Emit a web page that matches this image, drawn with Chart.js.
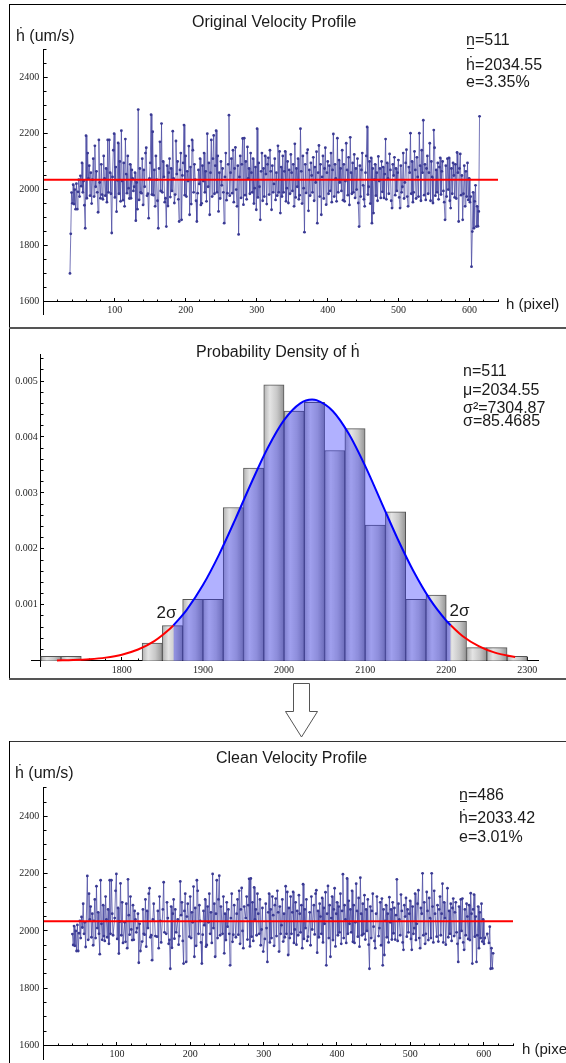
<!DOCTYPE html>
<html>
<head>
<meta charset="utf-8">
<title>Velocity profile cleaning</title>
<script src="https://cdn.jsdelivr.net/npm/chart.js@4.4.1/dist/chart.umd.min.js"></script>
<style>
html,body{margin:0;padding:0;background:#fff;}
body{position:relative;width:566px;height:1063px;overflow:hidden;font-family:"Liberation Sans",Arial,sans-serif;color:#1a1a1a;}
.ln{position:absolute;background:#000;}
canvas{position:absolute;left:0;}
.t{position:absolute;white-space:nowrap;font-size:16px;line-height:16px;}
.s15{font-size:15px;line-height:15px;}
.s17{font-size:17px;line-height:17px;}
.hb{position:relative;display:inline-block;}
.hb::before{content:"";position:absolute;left:1px;right:1px;top:-9px;border-top:1px solid #1a1a1a;}
</style>
</head>
<body>
<div class="ln" style="left:9px;top:4px;width:557px;height:1px"></div>
<div class="ln" style="left:9px;top:4px;width:1px;height:676px"></div>
<div class="ln" style="left:9px;top:327px;width:557px;height:2px;background:#555"></div>
<div class="ln" style="left:9px;top:678px;width:557px;height:2px;background:#555"></div>
<div class="ln" style="left:9px;top:741px;width:557px;height:1px;background:#333"></div>
<div class="ln" style="left:9px;top:741px;width:1px;height:322px"></div>
<svg style="position:absolute;left:0;top:680px" width="566" height="62">
<path d="M293.5,3.5 L309.5,3.5 L309.5,31.5 L317.5,31.5 L301.5,57 L285.5,31.5 L293.5,31.5 Z" fill="#fff" stroke="#555" stroke-width="1"/>
</svg>
<canvas id="c1" width="566" height="330" style="top:0"></canvas>
<canvas id="c2" width="566" height="350" style="top:330px"></canvas>
<canvas id="c3" width="566" height="322" style="top:741px"></canvas>

<div class="t" style="left:192px;top:14px">Original Velocity Profile</div>
<div class="t" style="left:16px;top:28px">ḣ (um/s)</div>
<div class="t s15" style="left:506px;top:295.5px">h (pixel)</div>
<div class="t" style="left:466px;top:31.5px">n=511</div>
<div class="t" style="left:466px;top:56.5px"><span class="hb">ḣ</span>=2034.55</div>
<div class="t" style="left:466px;top:74px">e=3.35%</div>

<div class="t" style="left:196px;top:344px">Probability Density of ḣ</div>
<div class="t" style="left:463px;top:363px">n=511</div>
<div class="t" style="left:463px;top:382px">μ=2034.55</div>
<div class="t" style="left:463px;top:399.5px">σ²=7304.87</div>
<div class="t" style="left:463px;top:413px">σ=85.4685</div>
<div class="t s17" style="left:156.5px;top:603.6px">2σ</div>
<div class="t s17" style="left:449.5px;top:602.3px">2σ</div>

<div class="t" style="left:216px;top:749.5px">Clean Velocity Profile</div>
<div class="t" style="left:15px;top:764.8px">ḣ (um/s)</div>
<div class="t s15" style="left:522px;top:1041px">h (pixel)</div>
<div class="t" style="left:459px;top:787px">n=486</div>
<div class="t" style="left:459px;top:810px"><span class="hb">ḣ</span>=2033.42</div>
<div class="t" style="left:459px;top:829px">e=3.01%</div>

<script>
// ---------------- data ----------------
const originalVelocity = [
1701,1842,1989,1951,2017,1948,2000,1930,2021,1930,1992,2035,1975,2049,2012,2095,1990,2030,1944,1862,
2192,1969,2130,2040,2085,1978,2060,1950,2035,2110,1975,2156,2010,2065,1990,1919,2177,2025,1969,2090,
1982,1965,2120,2040,1978,2075,1955,2177,1990,2177,2060,1985,1845,2045,2140,2199,1972,2080,1921,2033,
2166,1985,2100,1958,2210,2030,1962,2095,1940,2180,2055,1987,2120,2005,1968,2090,1969,2070,2040,1995,
2010,2060,1889,2025,1930,2285,1963,2075,1990,1987,2110,1945,2070,2010,2130,2149,1978,1985,1898,2040,
2095,2267,1982,2206,1980,2070,1940,2120,2035,1960,1862,2075,2170,1995,2235,1990,2100,2045,1955,1969,
1868,2085,1941,2060,2110,1973,2075,1995,2208,2040,1952,1982,2173,2055,2100,1965,1886,2070,2130,1892,
2050,2095,2230,1980,2120,1975,2065,2030,2155,1910,2080,1948,2177,2140,1990,2090,2035,1960,1886,1987,
2070,2020,2110,1945,1951,2085,2030,2130,1990,2065,1958,2199,2010,2095,1910,2060,2177,1975,2110,2193,
1985,2085,2210,1990,2120,1922,2060,1968,2100,2015,2075,1990,1880,2045,2130,1962,1987,2090,2265,1978,
2060,2110,1987,2140,1955,2075,2150,2000,1940,2085,1840,2045,2120,1970,2090,2182,1946,2183,1980,2100,
1965,2152,2040,2075,1985,2130,2060,1990,2110,1950,2005,2080,1928,2217,1972,2095,2010,1892,2065,2130,
1960,2075,1975,2120,2055,1948,2090,2113,1982,2140,2065,1928,2085,1990,2020,2110,1963,2060,1978,2156,
1990,2136,1916,2080,1975,2120,1990,2065,2136,1958,2005,2100,1952,2070,1985,2125,2060,1995,2090,1940,
2163,1972,2075,2010,2110,1965,1980,2217,2065,1950,2120,2005,1848,2090,1988,2130,2142,1924,2070,1978,
2095,2050,1990,2115,1960,2080,2025,2135,1880,2060,2157,1975,2090,1910,2045,2120,1968,2075,2149,1946,
2060,2100,1985,2085,1995,2130,1955,2070,2198,1975,2090,2040,1958,2183,1990,2105,2025,2075,1995,2140,
1962,2090,1958,2030,2165,2070,1980,2115,1945,2186,2060,1985,2095,1990,2125,1970,2075,2000,2110,1952,
1868,2085,1975,2070,2130,2015,1965,1940,2060,2120,2223,1982,2010,2100,1950,2113,1880,2075,1916,2035,
2090,1978,2060,1960,2118,2030,2075,1970,2100,1992,2080,1970,2055,2180,1965,2095,2040,1985,2127,2070,
1960,1934,2090,2050,2115,1980,2075,1995,2060,2105,1972,1934,2085,1990,2010,2130,1968,2025,2095,2142,
1975,1940,2080,2060,2201,1985,2100,1955,1990,2136,2070,1968,2115,2045,1975,2201,2085,1960,2140,2060,
2247,1980,2090,1963,2075,2120,1985,2060,2165,1960,2100,2045,1952,2212,2149,1978,2070,1990,2095,1965,
2080,2113,1982,2065,2100,1995,1955,1892,2085,1975,2110,2000,2113,1960,1934,2075,1985,2095,2050,1972,
2090,1968,2132,2060,1886,2075,2127,1980,2050,1892,1985,2085,1940,2065,1975,2095,1963,2040,1955,1975,
1725,1850,1990,1862,1958,2015,1868,1940,1869,1922,2261
];
const sampleFirstPixel = 37;
const sampleLastPixel = 614;
const originalMean = 2034.55;
const originalSigma = 85.4685;
const cleanMean = 2033.42;

const histBinStart = [1700,1725,1750,1775,1800,1825,1850,1875,1900,1925,1950,1975,2000,2025,2050,2075,2100,2125,2150,2175,2200,2225,2250,2275];
const histBinWidth = 25;
const histCounts = [1,1,0,0,0,4,8,14,14,35,44,63,57,59,48,53,31,34,14,15,9,3,3,1];

const tailLeftX  = [1720,1740,1760,1780,1800,1820,1840,1860,1863.6];
const tailLeftY  = [0.0000053,0.0000123,0.0000268,0.0000554,0.000108,0.000200,0.000350,0.000580,0.000632];
const coreX = [1863.6,1880,1900,1920,1940,1960,1980,2000,2020,2034.55,2040,2060,2080,2100,2120,2140,2160,2180,2200,2205.5];
const coreY = [0.000632,0.000910,0.001352,0.001902,0.002532,0.003191,0.003808,0.004302,0.004601,0.004668,0.004658,0.004465,0.004052,0.003482,0.002832,0.002181,0.001590,0.001097,0.000717,0.000632];
const tailRightX = [2205.5,2220,2240,2260,2285];
const tailRightY = [0.000632,0.000443,0.000260,0.000144,0.000066];

const profileXTicks = [100,200,300,400,500,600];
const profileYTicks = [1600,1800,2000,2200,2400];
const densityXTicks = [1800,1900,2000,2100,2200,2300];
const densityYTicks = [0.001,0.002,0.003,0.004,0.005];

// ---------------- helpers ----------------
const step = (sampleLastPixel - sampleFirstPixel) / (originalVelocity.length - 1);
const originalPoints = originalVelocity.map((v, i) => ({x: sampleFirstPixel + i * step, y: v}));
const lo = originalMean - 2 * originalSigma, hi = originalMean + 2 * originalSigma;
const cleanPoints = originalPoints.filter(p => p.y >= lo && p.y <= hi);
const nOrig = originalVelocity.length;
const histPoints = histBinStart.map((s, i) => ({x: s + histBinWidth / 2, y: histCounts[i] ? histCounts[i] / (nOrig * histBinWidth) : null}));
const zip = (xs, ys) => xs.map((x, i) => ({x, y: ys[i]}));

function fixSize(w) {
  return s => {
    if (s.isHorizontal()) s.height = 0; else s.width = w;
    s.paddingLeft = s.paddingRight = s.paddingTop = s.paddingBottom = 0;
  };
}
function seq(a, b, d) { const out = []; for (let k = 0; a + k * d <= b + 1e-12; k++) out.push({value: Math.round((a + k * d) * 1e7) / 1e7}); return out; }
const tickFont = {family: '"Liberation Serif","Times New Roman",serif', size: 10};
const tickColor = '#1e1e1e';

function majorAxis(axis, min, max, position, list, pad, w) {
  return {
    type: 'linear', axis, min, max, position, offset: false,
    grid: {display: true, drawOnChartArea: false, drawTicks: true, tickLength: -4, color: '#000', offset: false},
    border: {display: true, color: '#000', width: 1},
    ticks: {display: true, padding: pad, font: tickFont, color: tickColor, autoSkip: false, maxRotation: 0, minRotation: 0, callback: v => String(v)},
    afterBuildTicks: s => { s.ticks = list.map(v => ({value: v})); },
    afterFit: fixSize(w || 0)
  };
}
function minorAxis(axis, min, max, position, a, b, d) {
  return {
    type: 'linear', axis, min, max, position, offset: false,
    grid: {display: true, drawOnChartArea: false, drawTicks: true, tickLength: -2.5, color: '#000', offset: false},
    border: {display: false},
    ticks: {display: false, autoSkip: false},
    afterBuildTicks: s => { s.ticks = seq(a, b, d); },
    afterFit: fixSize(0)
  };
}

const baseOpts = {responsive: false, animation: false, devicePixelRatio: 1, events: [],
  plugins: {legend: {display: false}, tooltip: {enabled: false}, title: {display: false}}};

function profileChart(id, points, mean, pad) {
  return new Chart(document.getElementById(id), {
    type: 'line',
    data: {datasets: [
      {data: [{x: 0, y: mean}, {x: 640, y: mean}], borderColor: '#ff0000', borderWidth: 2, pointRadius: 0, order: 1},
      {data: points, borderColor: 'rgba(66,66,158,0.72)', borderWidth: 1, pointRadius: 1.4, pointBackgroundColor: '#3a3a94', pointBorderWidth: 0, tension: 0, order: 2}
    ]},
    options: Object.assign({}, baseOpts, {
      layout: {padding: pad},
      scales: {
        x: majorAxis('x', 0, 640, {y: 1600}, profileXTicks, 7),
        xm: minorAxis('x', 0, 640, {y: 1600}, 0, 640, 20),
        y: majorAxis('y', 1553, 2500, 'left', profileYTicks, 8.4, 40),
        ym: minorAxis('y', 1553, 2500, {x: 0}, 1600, 2500, 50)
      }
    })
  });
}

profileChart('c1', originalPoints, originalMean, {left: 3.7, right: 566 - 498, top: 49.3, bottom: 330 - 314.9});
profileChart('c3', cleanPoints, cleanMean, {left: 3.6, right: 566 - 513, top: 46.7, bottom: 322 - 321.6});

// density chart
function barFill(c) {
  if (c.type !== 'data') return '#c8c8c8';
  const xs = c.chart.scales.x;
  const s = histBinStart[c.dataIndex];
  const x0 = xs.getPixelForValue(s), x1 = xs.getPixelForValue(s + histBinWidth);
  if (!isFinite(x0) || !isFinite(x1) || x1 <= x0) return '#c8c8c8';
  const g = c.chart.ctx.createLinearGradient(x0, 0, x1, 0);
  g.addColorStop(0, '#b2b2b2');
  g.addColorStop(0.3, '#e4e4e4');
  g.addColorStop(0.65, '#c8c8c8');
  g.addColorStop(1, '#949494');
  return g;
}
new Chart(document.getElementById('c2'), {
  type: 'line',
  data: {datasets: [
    {type: 'bar', data: histPoints, backgroundColor: barFill, borderColor: '#555555', borderWidth: 1, barPercentage: 1, categoryPercentage: 1, order: 5},
    {data: zip(tailLeftX, tailLeftY), borderColor: '#ff0000', borderWidth: 2, pointRadius: 0, cubicInterpolationMode: 'monotone', order: 2},
    {data: zip(tailRightX, tailRightY), borderColor: '#ff0000', borderWidth: 2, pointRadius: 0, cubicInterpolationMode: 'monotone', order: 2},
    {data: zip(coreX, coreY), borderColor: '#0000ff', borderWidth: 2, pointRadius: 0, cubicInterpolationMode: 'monotone',
     fill: 'origin', backgroundColor: 'rgba(40,40,255,0.36)', order: 1}
  ]},
  options: Object.assign({}, baseOpts, {
    layout: {padding: {left: 31, right: 566 - 538.7, top: 24, bottom: 350 - 336.7}},
    scales: {
      x: majorAxis('x', 1688, 2314, {y: 0}, densityXTicks, 8),
      xm: minorAxis('x', 1688, 2314, {y: 0}, 1700, 2310, 20),
      y: Object.assign(majorAxis('y', -0.000107, 0.005483, {x: 1700}, densityYTicks, 0), {ticks: {display: false}}),
      ym: minorAxis('y', -0.000107, 0.005483, {x: 1700}, 0, 0.0054, 0.0002),
      yl: {
        type: 'linear', axis: 'y', min: -0.000107, max: 0.005483, position: 'left',
        grid: {display: false, drawTicks: false}, border: {display: false},
        ticks: {display: true, mirror: true, crossAlign: 'far', padding: -15.8, font: tickFont, color: tickColor, autoSkip: false, callback: v => String(v)},
        afterBuildTicks: s => { s.ticks = densityYTicks.map(v => ({value: v})); },
        afterFit: fixSize(0)
      }
    }
  })
});
</script>
</body>
</html>
